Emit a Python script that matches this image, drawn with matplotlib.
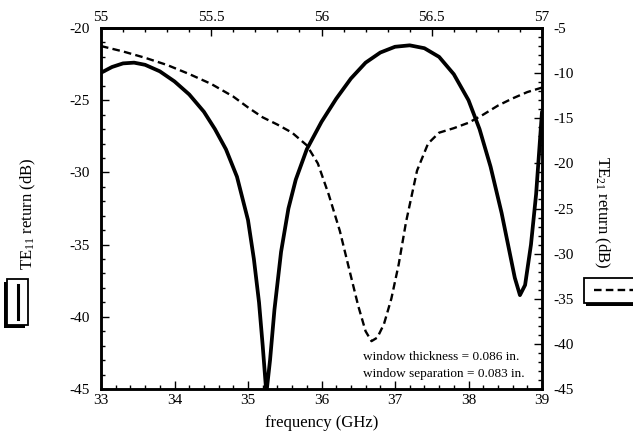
import matplotlib
matplotlib.use("Agg")
import matplotlib.pyplot as plt
from matplotlib.ticker import MultipleLocator
from matplotlib.patches import Rectangle
from matplotlib.lines import Line2D

plt.rcParams['font.family'] = ['Liberation Serif', 'DejaVu Serif']
plt.rcParams['mathtext.fontset'] = 'custom'
plt.rcParams['mathtext.rm'] = 'Liberation Serif'
plt.rcParams['mathtext.it'] = 'Liberation Serif:italic'
plt.rcParams['axes.unicode_minus'] = False

# TE11 return (solid, left axis), frequency in GHz
freq_te11 = [33.0, 33.15, 33.3, 33.45, 33.6, 33.8, 34.0, 34.2, 34.4, 34.55, 34.7,
             34.85, 35.0, 35.08, 35.15, 35.2, 35.25, 35.3, 35.36, 35.45, 35.55,
             35.65, 35.8, 36.0, 36.2, 36.4, 36.6, 36.8, 37.0, 37.2, 37.4, 37.6,
             37.8, 38.0, 38.15, 38.3, 38.45, 38.55, 38.63, 38.7, 38.77, 38.85,
             38.92, 39.0]
te11_db = [-23.1, -22.7, -22.45, -22.4, -22.55, -23.0, -23.7, -24.6, -25.8, -27.0, -28.4,
           -30.3, -33.3, -36.0, -39.0, -42.0, -45.3, -43.0, -39.5, -35.5, -32.5,
           -30.5, -28.4, -26.5, -24.9, -23.5, -22.4, -21.7, -21.3, -21.2, -21.4, -22.0,
           -23.2, -25.0, -27.0, -29.6, -32.8, -35.3, -37.3, -38.5, -37.8, -35.0,
           -31.5, -25.8]

# TE21 return (dashed, right axis)
freq_te21 = [33.0, 33.3, 33.6, 33.9, 34.2, 34.5, 34.8, 35.0, 35.2, 35.4, 35.6,
             35.8, 35.95, 36.1, 36.25, 36.4, 36.5, 36.6, 36.68, 36.76, 36.85,
             36.95, 37.05, 37.15, 37.3, 37.45, 37.6, 37.8, 38.0, 38.2, 38.4,
             38.6, 38.8, 39.0]
te21_db = [-7.0, -7.6, -8.3, -9.1, -10.1, -11.2, -12.6, -13.8, -14.9, -15.7, -16.6,
           -18.0, -20.0, -23.5, -27.5, -32.5, -35.8, -38.6, -39.7, -39.3, -37.8,
           -35.0, -31.2, -26.5, -20.8, -17.8, -16.6, -16.1, -15.5, -14.6, -13.6,
           -12.8, -12.1, -11.6]

top_ticks = [55, 55.5, 56, 56.5, 57]
notes = ['window thickness = 0.086 in.', 'window separation = 0.083 in.']

W, H = 633, 440
fig = plt.figure(figsize=(W / 100, H / 100), dpi=100)
ax = fig.add_axes([101 / W, 1 - 389 / H, (542 - 101) / W, (389 - 28) / H])

ax.plot(freq_te11, te11_db, color='black', lw=2.7, solid_capstyle='round')
ax.set_xlim(33, 39)
ax.set_ylim(-45, -20)
ax.xaxis.set_major_locator(MultipleLocator(1))
ax.xaxis.set_minor_locator(MultipleLocator(0.2))
ax.yaxis.set_major_locator(MultipleLocator(5))
ax.yaxis.set_minor_locator(MultipleLocator(1))
ax.set_xlabel('frequency (GHz)', fontsize=12, labelpad=6)

ax2 = ax.twinx()
ax2.plot(freq_te21, te21_db, color='black', lw=1.7, ls=(0, (3.2, 1.8)))
ax2.set_ylim(-45, -5)
ax2.yaxis.set_major_locator(MultipleLocator(5))
ax2.yaxis.set_minor_locator(MultipleLocator(1))

top = ax.secondary_xaxis('top', functions=(lambda x: 55 + (x - 33) / 3,
                                           lambda x: 33 + (x - 55) * 3))
top.set_xticks(top_ticks)
top.set_xticklabels([str(t) for t in top_ticks])
top.xaxis.set_minor_locator(MultipleLocator(0.1))

for a in (ax, ax2):
    for s in a.spines.values():
        s.set_linewidth(1.8)
for s in top.spines.values():
    s.set_linewidth(1.8)

ax.tick_params(which='both', direction='in', labelsize=11, width=1.0)
ax.tick_params(which='major', length=6)
ax.tick_params(which='minor', length=3)
ax.tick_params(axis='y', pad=8)
ax2.tick_params(which='both', direction='in', labelsize=11, width=1.0, pad=8)
ax2.tick_params(which='major', length=6)
ax2.tick_params(which='minor', length=3)
top.tick_params(which='both', direction='in', labelsize=11, width=1.0, pad=3)
top.tick_params(which='major', length=6)
top.tick_params(which='minor', length=3)

ax.text(36.57, -42.8, notes[0], fontsize=9.5, ha='left', va='center')
ax.text(36.57, -43.95, notes[1], fontsize=9.5, ha='left', va='center')

# axis titles
fig.text(28 / W, 1 - 214 / H, r'TE$_{11}$ return (dB)', rotation=90,
         ha='center', va='center', fontsize=12)
fig.text(602 / W, 1 - 212 / H, r'TE$_{21}$ return (dB)', rotation=-90,
         ha='center', va='center', fontsize=12)

# left legend box (rotated, solid line)
fig.patches.append(Rectangle((4 / W, 1 - 328 / H), 21 / W, 46 / H,
                             transform=fig.transFigure, facecolor='black',
                             edgecolor='black', lw=0))
fig.patches.append(Rectangle((7 / W, 1 - 325 / H), 21 / W, 46 / H,
                             transform=fig.transFigure, facecolor='white',
                             edgecolor='black', lw=1.3))
fig.lines.append(Line2D([17.5 / W, 17.5 / W], [1 - 319 / H, 1 - 285 / H],
                        transform=fig.transFigure, color='black', lw=2.2))

# right legend box (dashed line), cut by the figure edge
fig.patches.append(Rectangle((586 / W, 1 - 306 / H), 60 / W, 25 / H,
                             transform=fig.transFigure, facecolor='black',
                             edgecolor='black', lw=0))
fig.patches.append(Rectangle((584 / W, 1 - 303 / H), 60 / W, 25 / H,
                             transform=fig.transFigure, facecolor='white',
                             edgecolor='black', lw=1.3))
fig.lines.append(Line2D([594 / W, 633 / W], [1 - 290 / H, 1 - 290 / H],
                        transform=fig.transFigure, color='black', lw=1.7,
                        ls=(0, (3.2, 1.8))))

fig.savefig('out.png', dpi=100)
